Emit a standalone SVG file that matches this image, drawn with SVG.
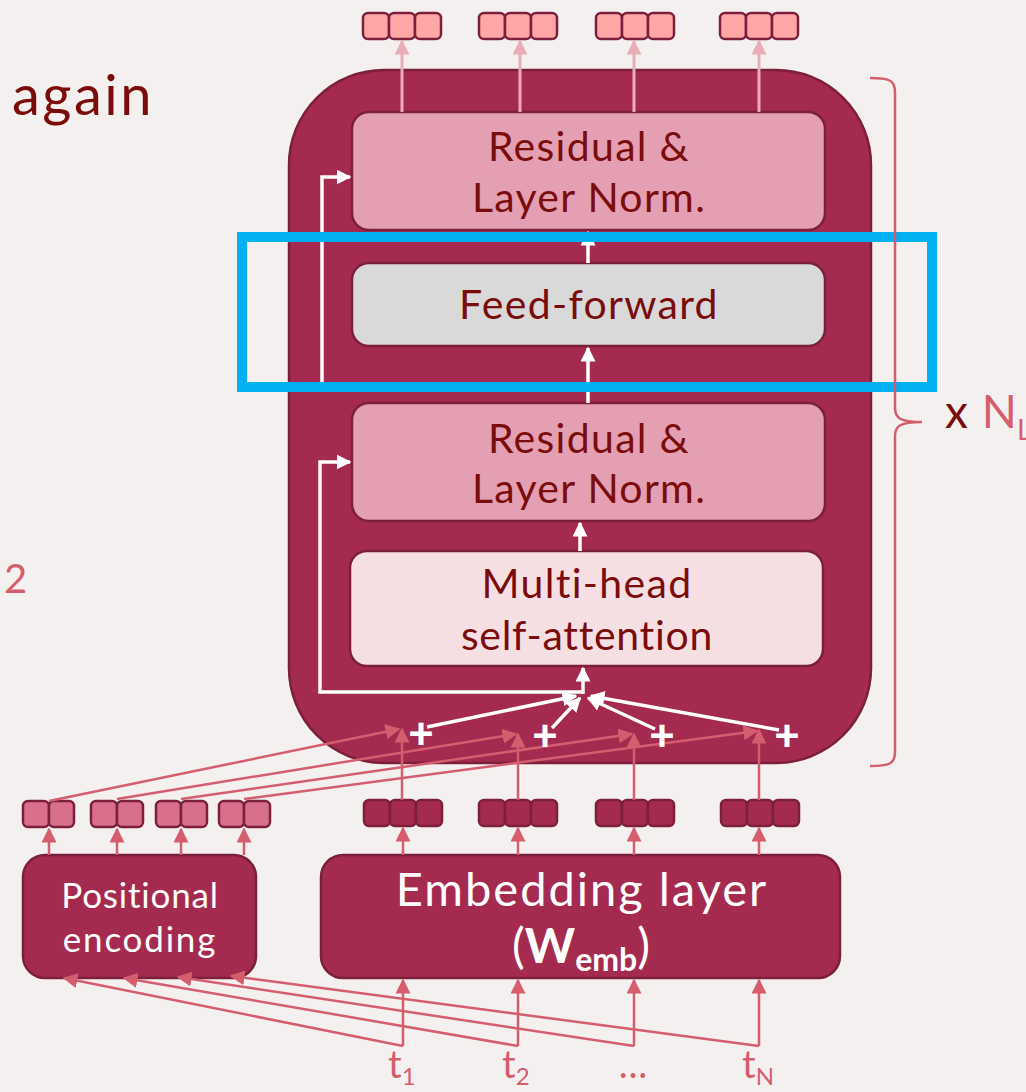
<svg xmlns="http://www.w3.org/2000/svg" width="1026" height="1092" viewBox="0 0 1026 1092">
<style>
.t{font-family:Lato,"Noto Sans","Liberation Sans",sans-serif}
.bx{font-size:41px;letter-spacing:1.3px}
.dk{fill:#7b0c0c}
.wt{fill:#ffffff}
.pk{fill:#d45d6e}
.tok{stroke:#7b1f3c;stroke-width:2.5}
.box{stroke:#7b1f3c;stroke-width:2.5}
.wl{stroke:#ffffff;stroke-width:3.5;fill:none}
.pl{stroke:#d45d6e;stroke-width:2.5;fill:none}
.ll{stroke:#e8aeb8;stroke-width:3;fill:none}
</style>
<defs>
<marker id="aw" viewBox="0 0 10 10" refX="9" refY="5" markerWidth="15" markerHeight="15" orient="auto" markerUnits="userSpaceOnUse"><path d="M0,0 L10,5 L0,10 z" fill="#ffffff"/></marker>
<marker id="ap" viewBox="0 0 10 10" refX="9" refY="5" markerWidth="15" markerHeight="15" orient="auto" markerUnits="userSpaceOnUse"><path d="M0,0 L10,5 L0,10 z" fill="#d45d6e"/></marker>
<marker id="al" viewBox="0 0 10 10" refX="9" refY="5" markerWidth="15" markerHeight="15" orient="auto" markerUnits="userSpaceOnUse"><path d="M0,0 L10,5 L0,10 z" fill="#e8aeb8"/></marker>
</defs>
<rect x="0" y="0" width="1026" height="1092" fill="#f4f0ef"/>

<g id="label-again"><text class="t dk" x="12" y="115" font-size="56" letter-spacing="2.5">again</text></g>
<g id="label-2"><text class="t pk" x="4" y="593" font-size="40">2</text></g>

<g id="encoder-block">
<rect class="box" x="289" y="70" width="582" height="693" rx="95" fill="#a52a4f"/>
</g>

<g id="residual-top">
<rect class="box" x="352" y="112" width="473" height="118" rx="17" fill="#e49fb2"/>
<text class="t bx dk" x="589" y="161" text-anchor="middle">Residual &amp;</text>
<text class="t bx dk" x="589" y="212" text-anchor="middle">Layer Norm.</text>
</g>
<g id="feed-forward">
<rect class="box" x="352" y="263" width="473" height="83" rx="17" fill="#d9d9d9"/>
<text class="t bx dk" x="589" y="319" text-anchor="middle">Feed-forward</text>
</g>
<g id="residual-bottom">
<rect class="box" x="352" y="403" width="473" height="118" rx="17" fill="#e49fb2"/>
<text class="t bx dk" x="589" y="453" text-anchor="middle">Residual &amp;</text>
<text class="t bx dk" x="589" y="503" text-anchor="middle">Layer Norm.</text>
</g>
<g id="mhsa">
<rect class="box" x="350" y="551" width="473" height="115" rx="17" fill="#f6dfe2"/>
<text class="t bx dk" x="587" y="598" text-anchor="middle">Multi-head</text>
<text class="t dk" x="587" y="650" font-size="41" letter-spacing="0.7" text-anchor="middle">self-attention</text>
</g>

<g id="positional-encoding">
<rect class="box" x="23" y="855" width="233" height="123" rx="22" fill="#a52a4f"/>
<text class="t wt" x="140" y="908" font-size="35" letter-spacing="0.8" text-anchor="middle">Positional</text>
<text class="t wt" x="140" y="952" font-size="35" letter-spacing="1.8" text-anchor="middle">encoding</text>
</g>
<g id="embedding-layer">
<rect class="box" x="321" y="855" width="519" height="123" rx="22" fill="#a52a4f"/>
<text class="t wt" x="582" y="906" font-size="47" letter-spacing="2" text-anchor="middle">Embedding layer</text>
<text class="t wt" x="581" y="963" font-size="48" text-anchor="middle">(<tspan font-weight="bold">W</tspan><tspan font-weight="bold" font-size="32" dy="8">emb</tspan><tspan dy="-8">)</tspan></text>
</g>

<g id="output-tokens" fill="#ffa7a7">
<rect class="tok" x="363" y="13" width="26" height="26" rx="5"/><rect class="tok" x="389" y="13" width="26" height="26" rx="5"/><rect class="tok" x="415" y="13" width="26" height="26" rx="5"/>
<rect class="tok" x="479" y="13" width="26" height="26" rx="5"/><rect class="tok" x="505" y="13" width="26" height="26" rx="5"/><rect class="tok" x="531" y="13" width="26" height="26" rx="5"/>
<rect class="tok" x="596" y="13" width="26" height="26" rx="5"/><rect class="tok" x="622" y="13" width="26" height="26" rx="5"/><rect class="tok" x="648" y="13" width="26" height="26" rx="5"/>
<rect class="tok" x="720" y="13" width="26" height="26" rx="5"/><rect class="tok" x="746" y="13" width="26" height="26" rx="5"/><rect class="tok" x="772" y="13" width="26" height="26" rx="5"/>
</g>
<g id="embedding-tokens" fill="#a52a4f">
<rect class="tok" x="364" y="800" width="26" height="26" rx="5"/><rect class="tok" x="390" y="800" width="26" height="26" rx="5"/><rect class="tok" x="416" y="800" width="26" height="26" rx="5"/>
<rect class="tok" x="479" y="800" width="26" height="26" rx="5"/><rect class="tok" x="505" y="800" width="26" height="26" rx="5"/><rect class="tok" x="531" y="800" width="26" height="26" rx="5"/>
<rect class="tok" x="596" y="800" width="26" height="26" rx="5"/><rect class="tok" x="622" y="800" width="26" height="26" rx="5"/><rect class="tok" x="648" y="800" width="26" height="26" rx="5"/>
<rect class="tok" x="721" y="800" width="26" height="26" rx="5"/><rect class="tok" x="747" y="800" width="26" height="26" rx="5"/><rect class="tok" x="773" y="800" width="26" height="26" rx="5"/>
</g>
<g id="positional-tokens" fill="#d8708c">
<rect class="tok" x="23" y="801" width="26" height="26" rx="5"/><rect class="tok" x="49" y="801" width="25" height="26" rx="5"/>
<rect class="tok" x="91" y="801" width="26" height="26" rx="5"/><rect class="tok" x="117" y="801" width="26" height="26" rx="5"/>
<rect class="tok" x="156" y="801" width="25" height="26" rx="5"/><rect class="tok" x="181" y="801" width="26" height="26" rx="5"/>
<rect class="tok" x="219" y="801" width="25" height="26" rx="5"/><rect class="tok" x="244" y="801" width="26" height="26" rx="5"/>
</g>

<g id="connectors">
<path class="ll" d="M402,112 V41" marker-end="url(#al)"/>
<path class="ll" d="M520,112 V41" marker-end="url(#al)"/>
<path class="ll" d="M634,112 V41" marker-end="url(#al)"/>
<path class="ll" d="M759,112 V41" marker-end="url(#al)"/>
<path class="wl" d="M588,263 V232" marker-end="url(#aw)"/>
<path class="wl" d="M588,403 V348" marker-end="url(#aw)"/>
<path class="wl" d="M588,387 H322 V177 H350" marker-end="url(#aw)"/>
<path class="wl" d="M580,551 V523" marker-end="url(#aw)"/>
<path class="wl" d="M583,692 H320 V462 H350" marker-end="url(#aw)"/>
<path class="wl" d="M583,694 V668" marker-end="url(#aw)"/>
<path class="wl" d="M427,727 L576,696" marker-end="url(#aw)"/>
<path class="wl" d="M552,728 L580,698" marker-end="url(#aw)"/>
<path class="wl" d="M655,729 L588,698" marker-end="url(#aw)"/>
<path class="wl" d="M779,730 L591,696" marker-end="url(#aw)"/>
<path class="pl" d="M402,800 V729" marker-end="url(#ap)"/>
<path class="pl" d="M518,800 V734" marker-end="url(#ap)"/>
<path class="pl" d="M634,800 V734" marker-end="url(#ap)"/>
<path class="pl" d="M759,800 V730" marker-end="url(#ap)"/>
<path class="pl" d="M49,801 L399,729" marker-end="url(#ap)"/>
<path class="pl" d="M117,799 L516,734" marker-end="url(#ap)"/>
<path class="pl" d="M181,799 L632,734" marker-end="url(#ap)"/>
<path class="pl" d="M244,799 L757,731" marker-end="url(#ap)"/>
<path class="pl" d="M403,855 V828" marker-end="url(#ap)"/>
<path class="pl" d="M518,855 V828" marker-end="url(#ap)"/>
<path class="pl" d="M634,855 V828" marker-end="url(#ap)"/>
<path class="pl" d="M759,855 V828" marker-end="url(#ap)"/>
<path class="pl" d="M49,855 V829" marker-end="url(#ap)"/>
<path class="pl" d="M117,855 V829" marker-end="url(#ap)"/>
<path class="pl" d="M181,855 V829" marker-end="url(#ap)"/>
<path class="pl" d="M244,855 V829" marker-end="url(#ap)"/>
<path class="pl" d="M403,1046 V980" marker-end="url(#ap)"/>
<path class="pl" d="M518,1046 V980" marker-end="url(#ap)"/>
<path class="pl" d="M634,1046 V980" marker-end="url(#ap)"/>
<path class="pl" d="M759,1046 V980" marker-end="url(#ap)"/>
<path class="pl" d="M403,1046 L64,978" marker-end="url(#ap)"/>
<path class="pl" d="M518,1046 L124,978" marker-end="url(#ap)"/>
<path class="pl" d="M634,1046 L178,977" marker-end="url(#ap)"/>
<path class="pl" d="M759,1046 L231,976" marker-end="url(#ap)"/>
</g>

<g id="plus-signs">
<text class="t wt" x="421" y="749" font-size="44" font-weight="900" text-anchor="middle">+</text>
<text class="t wt" x="545" y="751" font-size="44" font-weight="900" text-anchor="middle">+</text>
<text class="t wt" x="662" y="751" font-size="44" font-weight="900" text-anchor="middle">+</text>
<text class="t wt" x="787" y="751" font-size="44" font-weight="900" text-anchor="middle">+</text>
</g>

<g id="inputs">
<text class="t pk" x="388" y="1078" font-size="38">t<tspan font-size="24" dy="7">1</tspan></text>
<text class="t pk" x="502" y="1078" font-size="38">t<tspan font-size="24" dy="7">2</tspan></text>
<text class="t pk" x="633" y="1078" font-size="38" text-anchor="middle">…</text>
<text class="t pk" x="742" y="1078" font-size="38">t<tspan font-size="24" dy="7">N</tspan></text>
</g>

<g id="highlight">
<rect x="242" y="237" width="690" height="150" fill="none" stroke="#00b0f0" stroke-width="10"/>
</g>

<g id="repeat-brace">
<path class="pl" d="M870,78 C889,78 895,80 895,92 V408 C895,418 900,422 922,422 C900,422 895,426 895,436 V752 C895,764 889,766 870,766"/>
<text class="t" x="945" y="428" font-size="46"><tspan class="dk">x</tspan><tspan class="pk" dx="14">N</tspan><tspan class="pk" font-size="28" dy="12">L</tspan></text>
</g>
</svg>
